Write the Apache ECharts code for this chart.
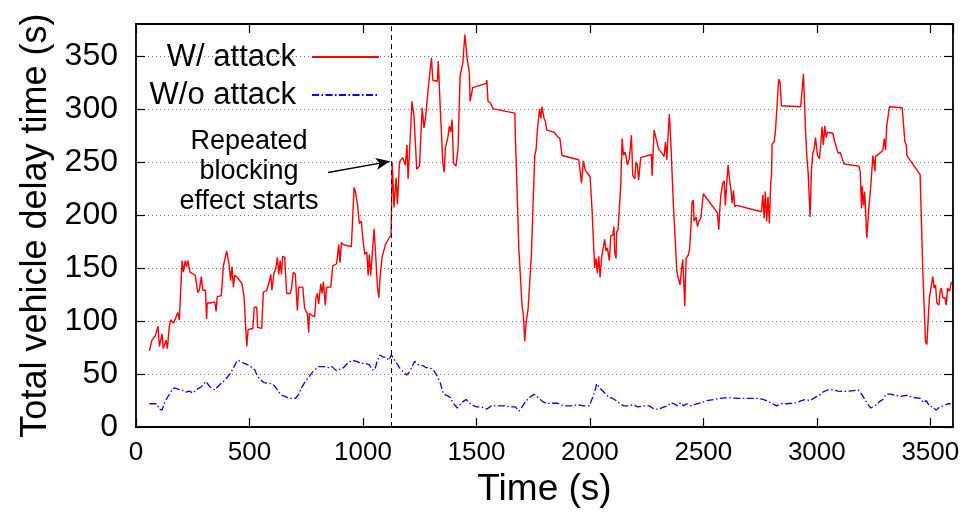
<!DOCTYPE html>
<html>
<head>
<meta charset="utf-8">
<title>Total vehicle delay time</title>
<script src="https://cdn.jsdelivr.net/npm/echarts@6/dist/echarts.min.js"></script>
<style>
  html, body { margin: 0; padding: 0; background: #fff; }
  #chart { width: 974px; height: 513px; }
</style>
</head>
<body>
<div id="chart"></div>
<script>
// time (s) and delay (s), with attack
const attackTime = [59, 70, 85, 97, 103, 115, 120, 132, 138, 147, 153, 165, 173, 184, 191, 203, 209, 217, 223, 229, 238, 247, 261, 272, 279, 288, 294, 306, 311, 314, 326, 347, 353, 358, 376, 385, 391, 400, 411, 417, 423, 429, 435, 447, 467, 476, 488, 494, 515, 521, 532, 536, 554, 561, 576, 587, 594,
  599, 607, 617, 623, 629, 635, 641, 646, 655, 664, 679, 685, 693, 702, 711, 717, 735, 743, 755, 761, 764, 787, 793, 799, 805, 814, 820, 826, 834, 840, 858, 867, 884, 893, 899, 905, 914, 949, 961, 967, 976, 984, 993, 999, 1008, 1017, 1023, 1028, 1034, 1040, 1049, 1055, 1064, 1070, 1075, 1084, 1099, 1117, 1124,
  1129, 1137, 1146, 1152, 1161, 1175, 1187, 1194, 1199, 1211, 1216, 1225, 1237, 1249, 1261, 1269, 1275, 1287, 1302, 1308, 1328, 1332, 1340, 1352, 1358, 1363, 1375, 1381, 1387, 1393, 1399, 1410, 1419, 1428, 1440, 1449, 1460, 1469, 1472, 1484, 1543, 1546, 1551, 1560, 1575, 1669, 1672, 1678, 1687, 1701, 1707, 1713, 1719, 1728, 1742, 1757, 1763, 1769, 1778, 1784, 1789,
  1798, 1804, 1810, 1842, 1857, 1868, 1877, 1951, 1963, 1971, 1980, 2001, 2010, 2015, 2021, 2027, 2033, 2039, 2045, 2051, 2059, 2065, 2071, 2077, 2086, 2092, 2101, 2106, 2109, 2115, 2118, 2124, 2130, 2136, 2142, 2148, 2154, 2159, 2165, 2174, 2183, 2189, 2198, 2203, 2209, 2215, 2224, 2271, 2274, 2283, 2303, 2318, 2327, 2333, 2339, 2344, 2350, 2356, 2362, 2368, 2377, 2383, 2389, 2397,
  2403, 2409, 2415, 2418, 2424, 2433, 2439, 2445, 2450, 2456, 2459, 2468, 2474, 2480, 2489, 2494, 2500, 2562, 2568, 2571, 2577, 2586, 2592, 2597, 2603, 2609, 2615, 2621, 2627, 2633, 2638, 2647, 2756, 2762, 2768, 2773, 2779, 2785, 2791, 2797, 2800, 2803, 2812, 2818, 2823, 2832, 2838, 2844, 2929, 2941, 2950, 2956, 2962, 2970, 2976, 2982, 2988, 2994,
  3003, 3012, 3018, 3023, 3029, 3035, 3041, 3047, 3070, 3079, 3094, 3103, 3112, 3120, 3185, 3191, 3197, 3200, 3206, 3211, 3220, 3229, 3238, 3247, 3256, 3258, 3276, 3291, 3297, 3303, 3308, 3320, 3376, 3388, 3394, 3397, 3455, 3467, 3479, 3485, 3491, 3496, 3505, 3511, 3517, 3523, 3529, 3538, 3543, 3549, 3555, 3564, 3570, 3576, 3585, 3593];
const attackDelay = [72, 82, 86, 95, 76, 88, 74, 82, 74, 95, 101, 98, 102, 108, 101, 157, 146, 157, 151, 157, 146, 145, 143, 127, 129, 142, 129, 129, 102, 117, 117, 118, 109, 123, 124, 152, 152, 166, 152, 138, 151, 132, 143, 141, 135, 123, 76, 92, 93, 113, 113, 94, 93, 127, 129, 137, 144,
  129, 144, 151, 160, 144, 157, 144, 161, 160, 126, 126, 130, 146, 144, 110, 132, 132, 112, 107, 89, 107, 104, 122, 126, 116, 135, 126, 137, 115, 132, 132, 152, 154, 172, 155, 174, 172, 170, 226, 222, 210, 192, 194, 179, 163, 165, 143, 163, 143, 160, 187, 166, 132, 122, 140, 160, 172, 179, 181,
  249, 207, 235, 210, 250, 254, 247, 266, 234, 284, 307, 293, 243, 246, 301, 282, 290, 318, 348, 327, 326, 345, 304, 249, 240, 263, 274, 284, 278, 290, 249, 246, 262, 331, 343, 370, 346, 334, 307, 320, 324, 327, 307, 306, 300, 296, 271, 231, 168, 115, 106, 81, 99, 112, 162, 256, 262, 281, 300, 291, 302,
  291, 288, 280, 278, 274, 272, 256, 252, 230, 251, 242, 236, 203, 178, 150, 159, 145, 161, 141, 159, 158, 177, 166, 169, 157, 180, 181, 189, 166, 159, 184, 186, 187, 228, 272, 256, 259, 256, 247, 253, 275, 237, 234, 250, 247, 233, 254, 257, 237, 280, 262, 258, 255, 269, 252, 273, 295, 272, 273, 209, 172, 147, 141, 134,
  147, 158, 131, 114, 159, 162, 167, 187, 212, 214, 194, 198, 189, 194, 197, 208, 220, 202, 186, 200, 219, 230, 232, 209, 230, 247, 234, 225, 211, 223, 208, 209, 203, 219, 197, 222, 194, 217, 192, 231, 236, 267, 269, 280, 297, 328, 325, 303, 302, 333, 281, 255, 239, 198, 241, 258, 262, 273,
  256, 253, 269, 283, 266, 284, 273, 278, 277, 269, 258, 259, 253, 248, 246, 241, 206, 227, 209, 222, 178, 206, 228, 256, 241, 255, 258, 261, 272, 261, 284, 302, 301, 269, 266, 256, 238, 147, 80, 78, 103, 122, 134, 142, 131, 134, 117, 115, 128, 131, 122, 122, 115, 131, 128, 137];

// without attack
const baseTime = [59, 91, 103, 115, 126, 141, 156, 167, 182, 200, 220, 235, 250, 264, 288, 308, 326, 347, 364, 385, 402, 417, 432, 447, 461, 476, 491, 505, 523, 535, 546, 564, 585, 599, 614, 629, 643, 658, 673, 688, 702, 714, 729, 743, 761, 782, 805, 829, 849, 864, 884, 902, 914, 931, 952, 973, 990, 1008, 1028, 1040, 1052, 1064, 1075, 1090, 1102, 1114, 1125, 1134, 1149, 1164, 1178, 1193,
  1205, 1214, 1228, 1243, 1264, 1278, 1293, 1310, 1325, 1340, 1355, 1369, 1384, 1396, 1416, 1434, 1454, 1478, 1501, 1522, 1546, 1566, 1595, 1625, 1654, 1672, 1687, 1701, 1716, 1734, 1754, 1772, 1792, 1813, 1827, 1857, 1886, 1916, 1945, 1974, 1998, 2012, 2021, 2030, 2042, 2057, 2071, 2086, 2101, 2115, 2133, 2150, 2171, 2192, 2212, 2239, 2262, 2283, 2303, 2327, 2344, 2356, 2371, 2386,
  2400, 2412, 2427, 2447, 2471, 2492, 2515, 2544, 2574, 2594, 2618, 2662, 2706, 2750, 2779, 2803, 2823, 2844, 2868, 2891, 2912, 2932, 2950, 2970, 2985, 3000, 3012, 3026, 3047, 3070, 3094, 3115, 3144, 3182, 3197, 3209, 3223, 3238, 3256, 3276, 3291, 3305, 3323, 3347, 3370, 3394, 3423, 3455, 3470, 3482, 3496, 3511, 3526, 3541, 3558, 3576, 3590];
const baseDelay = [22, 22, 17, 16, 23, 29, 34, 37, 36, 35, 33, 34, 32, 35, 38, 43, 38, 35, 39, 43, 47, 51, 57, 63, 62, 60, 59, 57, 54, 48, 45, 42, 41, 41, 38, 33, 30, 29, 27, 27, 27, 30, 37, 42, 47, 53, 57, 57, 56, 57, 53, 55, 56, 60, 63, 62, 60, 60, 59, 54, 54, 63, 68, 66, 66, 63, 68, 65, 60, 55, 52, 49,
  52, 56, 62, 59, 58, 56, 56, 54, 49, 42, 31, 30, 28, 23, 18, 23, 26, 21, 19, 19, 17, 20, 20, 20, 19, 19, 15, 19, 24, 28, 31, 28, 24, 22, 22.5, 22.5, 20, 20, 21, 20, 20, 28, 33, 41, 37, 34, 31, 28, 27, 25, 22, 20, 20, 21, 19, 20, 20, 17, 17, 19, 20, 23, 22, 20,
  23, 20, 22, 20, 22, 23, 25, 26, 27, 27.5, 27.5, 27, 27, 27, 25, 22, 20, 22, 22, 22.5, 23, 25, 26, 25, 27, 29, 30, 33, 35, 35, 34, 33.5, 34, 35, 31, 27, 22, 18, 20, 24, 26, 31, 31, 30, 29, 30, 28, 27, 23, 25, 20, 19, 16, 19, 20, 22, 22];

const seriesNames = ['W/ attack', 'W/o attack'];
const xTicks = [0, 3600, 500];   // min, max, interval
const yTicks = [0, 380, 50];
const attackStart = 1125;

const font = 'Liberation Sans, Arial, Helvetica, sans-serif';

const chart = echarts.init(document.getElementById('chart'), null, { renderer: 'canvas' });

const zip = (xs, ys) => xs.map((x, i) => [x, ys[i]]);

// shared look of the box axes (gnuplot style: ticks inward on all four sides)
const boxAxis = (extra) => Object.assign({
  type: 'value',
  axisLine: { show: true, onZero: false, lineStyle: { color: '#000', width: 1.8 } },
  axisTick: { show: true, inside: true, length: 9, lineStyle: { color: '#000', width: 1.2 } },
  splitLine: { show: false },
  axisLabel: { show: false }
}, extra);

const legendBox = (name, top) => ({
  data: [name], right: 594, top: top, orient: 'vertical', align: 'right',
  padding: 0, itemWidth: 67, itemHeight: 14,
  itemStyle: { opacity: 0 },
  textStyle: { fontFamily: font, fontSize: 31, color: '#000', lineHeight: 36, padding: [0, 11, 0, 0] }
});

const option = {
  animation: false,
  backgroundColor: '#fff',
  grid: { left: 136, right: 21, top: 24, bottom: 82 },
  legend: [legendBox(seriesNames[0], 39), legendBox(seriesNames[1], 77)],
  xAxis: [
    boxAxis({
      position: 'bottom', min: xTicks[0], max: xTicks[1], interval: xTicks[2],
      name: 'Time (s)', nameLocation: 'middle', nameGap: 40,
      nameTextStyle: { fontFamily: font, fontSize: 37, color: '#000' },
      axisLabel: { show: true, margin: 13, fontFamily: font, fontSize: 26, color: '#000', showMaxLabel: false, formatter: v => String(v) }
    }),
    boxAxis({ position: 'top', min: xTicks[0], max: xTicks[1], interval: xTicks[2] })
  ],
  yAxis: [
    boxAxis({
      position: 'left', min: yTicks[0], max: yTicks[1], interval: yTicks[2],
      name: 'Total vehicle delay time (s)', nameLocation: 'middle', nameGap: 80,
      nameTextStyle: { fontFamily: font, fontSize: 36, color: '#000' },
      axisLabel: { show: true, margin: 18, fontFamily: font, fontSize: 32, color: '#000', showMaxLabel: false, formatter: v => String(v) },
      splitLine: { show: true, showMinLine: false, showMaxLine: false, lineStyle: { color: '#777', width: 1.2, type: [1, 3] } }
    }),
    boxAxis({ position: 'right', min: yTicks[0], max: yTicks[1], interval: yTicks[2] })
  ],
  series: [
    {
      name: seriesNames[0],
      type: 'line',
      xAxisIndex: 0, yAxisIndex: 0,
      data: zip(attackTime, attackDelay),
      symbol: 'none',
      lineStyle: { color: '#ff0000', width: 1.4 },
      itemStyle: { color: '#ff0000' },
      z: 3,
      markLine: {
        silent: true,
        symbol: ['none', 'none'],
        label: { show: false },
        data: [
          { xAxis: attackStart, lineStyle: { color: '#000', width: 1, type: [5, 4] } },
          [
            { coord: [846, 240], symbol: 'none', lineStyle: { color: '#000', width: 1.5, type: 'solid' } },
            { coord: [1119, 250.5], symbol: 'arrow', symbolSize: [9, 14] }
          ]
        ]
      }
    },
    {
      name: seriesNames[1],
      type: 'line',
      xAxisIndex: 0, yAxisIndex: 0,
      data: zip(baseTime, baseDelay),
      symbol: 'none',
      lineStyle: { color: '#0000ff', width: 1.3, type: [7, 2.5, 1.5, 2.5] },
      itemStyle: { color: '#0000ff' },
      z: 3
    }
  ],
  graphic: [
    {
      type: 'text',
      x: 249, y: 172,
      style: {
        text: 'Repeated\nblocking\neffect starts',
        font: '27px ' + font,
        fill: '#000',
        textAlign: 'center',
        textVerticalAlign: 'middle',
        lineHeight: 30
      }
    }
  ]
};

chart.setOption(option);
window.addEventListener('resize', () => {
  chart.resize();
});
</script>
</body>
</html>
